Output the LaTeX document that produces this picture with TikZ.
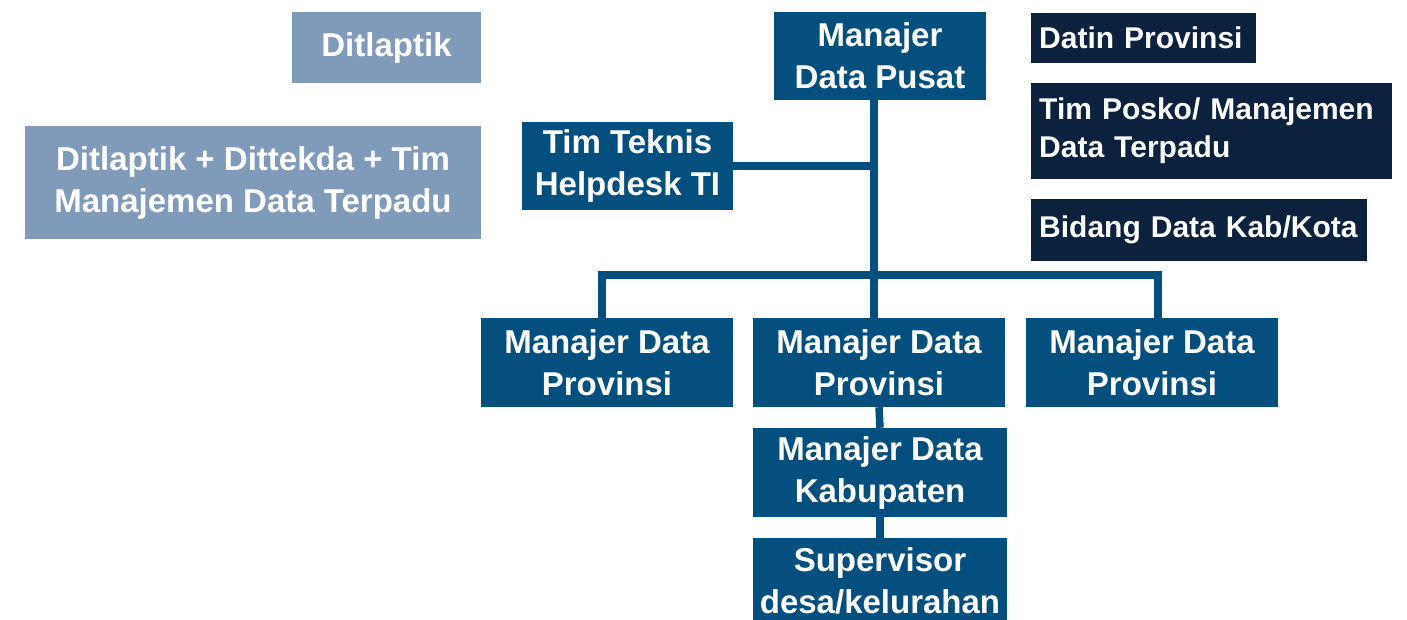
\documentclass[tikz,border=0pt]{standalone}
\usepackage{fontspec}
\setmainfont{Liberation Sans}
\definecolor{mblue}{HTML}{054F7F}
\definecolor{navy}{HTML}{0C213D}
\definecolor{lgrey}{HTML}{7F9BB9}
\newcommand\mkbox[7]{\node[#6, minimum width={#4-#2}, minimum height={#5-#3}] (#1) at ({(#2+#4)/2},{(#3+#5)/2}) {#7};}
\begin{document}
\begin{tikzpicture}[x=1pt,y=-1pt,
  bluebox/.style={fill=mblue, text=white, inner sep=0pt, align=center, font=\bfseries\fontsize{33}{42}\selectfont},
  greybox/.style={fill=lgrey, text=white, inner sep=0pt, align=center, font=\bfseries\fontsize{33}{42}\selectfont},
  navybox/.style={fill=navy, text=white, inner xsep=8pt, inner ysep=0pt, align=left, font=\bfseries\fontsize{30}{38}\selectfont},
  conn/.style={draw=mblue, line width=7.5pt, line join=miter}]
\fill[white] (0,0) rectangle (1407,620);
\useasboundingbox (0,0) rectangle (1407,620);
% grey boxes
\mkbox{ditl}{292}{12}{481}{83}{greybox}{Ditlaptik}
\mkbox{ditall}{25}{126}{481}{239}{greybox}{Ditlaptik + Dittekda + Tim\\Manajemen Data Terpadu}
% navy legend boxes
\node[navybox, minimum width=225, minimum height=50, text width=209, anchor=north west] (datin) at (1031,13) {Datin Provinsi};
\node[navybox, minimum width=361, minimum height=96, text width=345, anchor=north west] (posko) at (1031,83) {Tim Posko/ Manajemen\\Data Terpadu};
\node[navybox, minimum width=336, minimum height=62, text width=320, anchor=north west] (bidang) at (1031,199) {Bidang Data Kab/Kota};
% connector coordinates
\coordinate (trunk) at (874,275);
\coordinate (busL) at (602,275);
\coordinate (busR) at (1158,275);
% blue boxes
\mkbox{pusat}{774}{12}{986}{100}{bluebox}{Manajer\\Data Pusat}
\mkbox{tek}{522}{122}{733}{210}{bluebox}{Tim Teknis\\Helpdesk TI}
\mkbox{prov1}{481}{318}{733}{407}{bluebox}{Manajer Data\\Provinsi}
\mkbox{prov2}{753}{318}{1005}{407}{bluebox}{Manajer Data\\Provinsi}
\mkbox{prov3}{1026}{318}{1278}{407}{bluebox}{Manajer Data\\Provinsi}
\mkbox{kab}{753}{428}{1007}{517}{bluebox}{Manajer Data\\Kabupaten}
\mkbox{sup}{753}{538}{1007}{624}{bluebox}{Supervisor\\desa/kelurahan}
% connectors
\draw[conn] (pusat.south -| trunk) -- (prov2.north -| trunk);
\draw[conn] (tek.east) -- (tek.east -| trunk);
\draw[conn] (prov1.north -| busL) -- (busL) -- (busR) -- (prov3.north -| busR);
\draw[conn] (prov2.south) -- (kab.north);
\draw[conn] (kab.south) -- (sup.north);
\end{tikzpicture}
\end{document}
